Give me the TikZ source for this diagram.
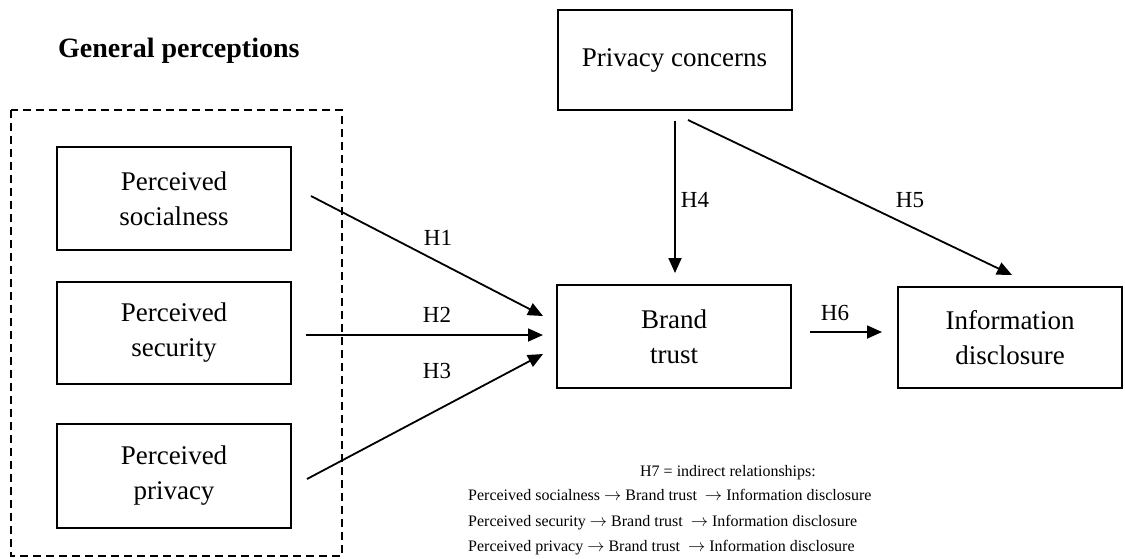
\documentclass[tikz,border=0pt]{standalone}
\usepackage{fontspec}
\setmainfont{Liberation Serif}
\usetikzlibrary{arrows.meta}

\tikzset{
  var/.style={draw, line width=2pt, rectangle, inner sep=0pt, align=center,
    minimum width=234pt, font=\fontsize{27}{35}\selectfont},
  link/.style={line width=1.8pt, -{Triangle[length=15pt,width=13pt]}},
  hyp/.style={font=\fontsize{23}{26}\selectfont},
  note/.style={font=\fontsize{16}{20}\selectfont, inner sep=0pt},
  group/.style={line width=1.6pt, dash pattern=on 8pt off 5pt},
}

\begin{document}
\begin{tikzpicture}[x=1pt, y=-1pt]
  \clip (0,0) rectangle (1125,558);
  \fill[white] (0,0) rectangle (1125,558);

  % group of general perceptions
  \node[font=\fontsize{28}{32}\selectfont\bfseries, anchor=base west, inner sep=0pt] (gp) at (58,57) {General perceptions};
  \draw[group] (11,110) rectangle (342,556);

  \node[var, minimum height=103pt] (soc) at (174,198.5) {Perceived\\socialness};
  \node[var, minimum height=102pt] (sec) at (174,333) {Perceived\\security};
  \node[var, minimum height=104pt] (pri) at (174,476) {Perceived\\privacy};

  \node[var, minimum height=100pt] (pc) at (674.5,60) {Privacy concerns};
  \node[var, minimum height=103pt] (bt) at (674,336.5) {Brand\\trust};
  \node[var, minimum width=224pt, minimum height=101pt] (id) at (1010,337.5) {Information\\disclosure};

  % free ends of the connectors
  \coordinate (s1) at (311,196);  \coordinate (e1) at (543,316);
  \coordinate (s2) at (306,335);  \coordinate (e2) at (543,335);
  \coordinate (s3) at (307,479);  \coordinate (e3) at (543,354);
  \coordinate (s4) at (675,121);  \coordinate (e4) at (675,273);
  \coordinate (s5) at (688,120);  \coordinate (e5) at (1012,275);
  \coordinate (s6) at (810,332);  \coordinate (e6) at (882,332);

  \draw[link] (s1) -- (e1);
  \draw[link] (s2) -- (e2);
  \draw[link] (s3) -- (e3);
  \draw[link] (s4) -- (e4);
  \draw[link] (s5) -- (e5);
  \draw[link] (s6) -- (e6);

  \node[hyp] (h1) at (438,238) {H1};
  \node[hyp] (h2) at (437,315) {H2};
  \node[hyp] (h3) at (437,371) {H3};
  \node[hyp] (h4) at (695,200) {H4};
  \node[hyp] (h5) at (910,200) {H5};
  \node[hyp] (h6) at (835,313) {H6};

  % indirect relationships
  \node[note, anchor=base] (h7) at (728,476) {H7 = indirect relationships:};
  \node[note, anchor=base west] (r1) at (468,500) {Perceived socialness \(\rightarrow\) Brand trust \ \(\rightarrow\) Information disclosure};
  \node[note, anchor=base west] (r2) at (468,526) {Perceived security \(\rightarrow\) Brand trust \ \(\rightarrow\) Information disclosure};
  \node[note, anchor=base west] (r3) at (468,551) {Perceived privacy \(\rightarrow\) Brand trust \ \(\rightarrow\) Information disclosure};
\end{tikzpicture}
\end{document}
